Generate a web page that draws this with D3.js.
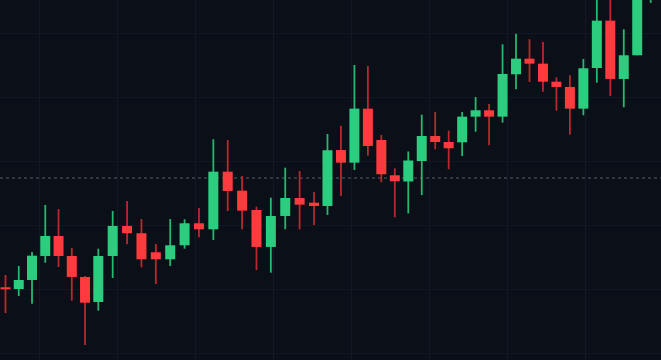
<!DOCTYPE html>
<html>
<head>
<meta charset="utf-8">
<script src="https://cdn.jsdelivr.net/npm/d3@7"></script>
<style>
  html, body { margin: 0; padding: 0; background: #0b0f17; }
  svg { display: block; }
</style>
</head>
<body>
<svg></svg>
<script>
const width = 661;
const height = 360;

// OHLC per session
const opens = [110.27, 110.0, 111.41, 115.16, 118.28, 115.16, 111.88, 107.97, 115.16, 119.85, 118.71, 115.74, 114.64, 116.83, 120.27, 119.33,
    128.33, 125.36, 122.35, 116.57, 121.41, 124.22, 123.49, 122.97, 131.72, 129.74, 138.18, 133.28, 127.77, 126.8, 130.0, 133.91,
    132.97, 132.92, 136.93, 137.93, 136.93, 143.55, 145.99, 145.21, 142.39, 141.57, 138.18, 144.53, 151.93, 142.82, 146.52, 157.5];
const highs = [112.19, 113.6, 115.78, 123.13, 122.5, 116.41, 112.03, 116.3, 122.19, 123.75, 120.94, 117.03, 120.94, 120.89, 122.66, 133.39,
    133.28, 127.66, 122.86, 124.27, 128.96, 128.44, 125.16, 134.22, 135.52, 145.0, 144.85, 134.07, 128.86, 131.49, 137.24, 137.66,
    134.74, 137.66, 140.0, 138.91, 148.24, 149.89, 149.02, 148.6, 143.08, 143.39, 145.94, 156.72, 155.94, 150.58, 160.0, 163.0];
const lows = [106.25, 108.91, 107.71, 114.11, 113.44, 108.18, 101.25, 106.61, 111.72, 116.99, 113.39, 110.78, 113.6, 116.3, 118.08, 117.66,
    122.19, 119.33, 112.97, 112.55, 119.33, 119.33, 120.0, 121.57, 124.53, 128.6, 130.83, 126.68, 121.21, 121.8, 124.69, 131.83,
    128.71, 130.79, 134.58, 132.46, 135.99, 141.21, 142.35, 140.83, 137.86, 134.11, 137.14, 142.24, 140.16, 138.39, 146.52, 154.7];
const closes = [109.96, 111.41, 115.21, 118.28, 115.16, 111.88, 107.86, 115.16, 119.85, 118.71, 114.64, 114.64, 116.83, 120.27, 119.33, 128.33,
    125.32, 122.24, 116.57, 121.41, 124.22, 123.18, 122.97, 131.68, 129.74, 138.18, 132.35, 127.93, 126.83, 130.08, 133.91, 132.97,
    131.99, 136.93, 137.93, 136.93, 143.6, 145.99, 145.21, 142.39, 141.57, 138.18, 144.49, 151.93, 142.82, 146.52, 158.3, 161.4];
const priceLine = 127.34;
const gridPrices = [100, 110, 120, 130, 140, 150];

const candles = opens.map((o, i) => ({ i, o, h: highs[i], l: lows[i], c: closes[i] }));

const svg = d3.select("svg")
    .attr("width", width)
    .attr("height", height);

svg.append("rect")
    .attr("width", width)
    .attr("height", height)
    .attr("fill", "#0b0f17");

// the photo's time axis is not quite even, hence the few breakpoints
const x = d3.scaleLinear()
    .domain([0, 7, 22, 47])
    .range([5.5, 98.3, 314, 650.7]);

const y = d3.scaleLinear()
    .domain([100, 150])
    .range([353, 33]);

const grid = svg.append("g").attr("class", "grid");

grid.selectAll("line.h")
    .data(gridPrices)
    .enter().append("line")
    .attr("class", "h")
    .attr("x1", 0)
    .attr("x2", width)
    .attr("y1", d => Math.round(y(d)) + 0.5)
    .attr("y2", d => Math.round(y(d)) + 0.5)
    .attr("stroke", "#121823")
    .attr("stroke-width", 1);

grid.selectAll("line.v")
    .data(d3.range(39, width, 78))
    .enter().append("line")
    .attr("class", "v")
    .attr("x1", d => d + 0.5)
    .attr("x2", d => d + 0.5)
    .attr("y1", 0)
    .attr("y2", height)
    .attr("stroke", "#131924")
    .attr("stroke-width", 1);

svg.append("line")
    .attr("x1", 0)
    .attr("x2", width)
    .attr("y1", y(priceLine))
    .attr("y2", y(priceLine))
    .attr("stroke", "#5f7a78")
    .attr("stroke-opacity", 0.8)
    .attr("stroke-width", 1)
    .attr("stroke-dasharray", "3,3");

const up = d => d.c >= d.o;

const candle = svg.append("g")
    .attr("class", "candles")
    .selectAll("g")
    .data(candles)
    .enter().append("g");

candle.append("line")
    .attr("x1", d => x(d.i))
    .attr("x2", d => x(d.i))
    .attr("y1", d => y(d.h))
    .attr("y2", d => y(d.l))
    .attr("stroke", d => up(d) ? "#25b86f" : "#b8292e")
    .attr("stroke-width", 1.8);

candle.append("rect")
    .attr("x", d => x(d.i) - 5)
    .attr("width", 10)
    .attr("y", d => y(Math.max(d.o, d.c)))
    .attr("height", d => Math.max(2, Math.abs(y(d.o) - y(d.c))))
    .attr("fill", d => up(d) ? "#2ccd7f" : "#fd3a3e");
</script>
</body>
</html>
